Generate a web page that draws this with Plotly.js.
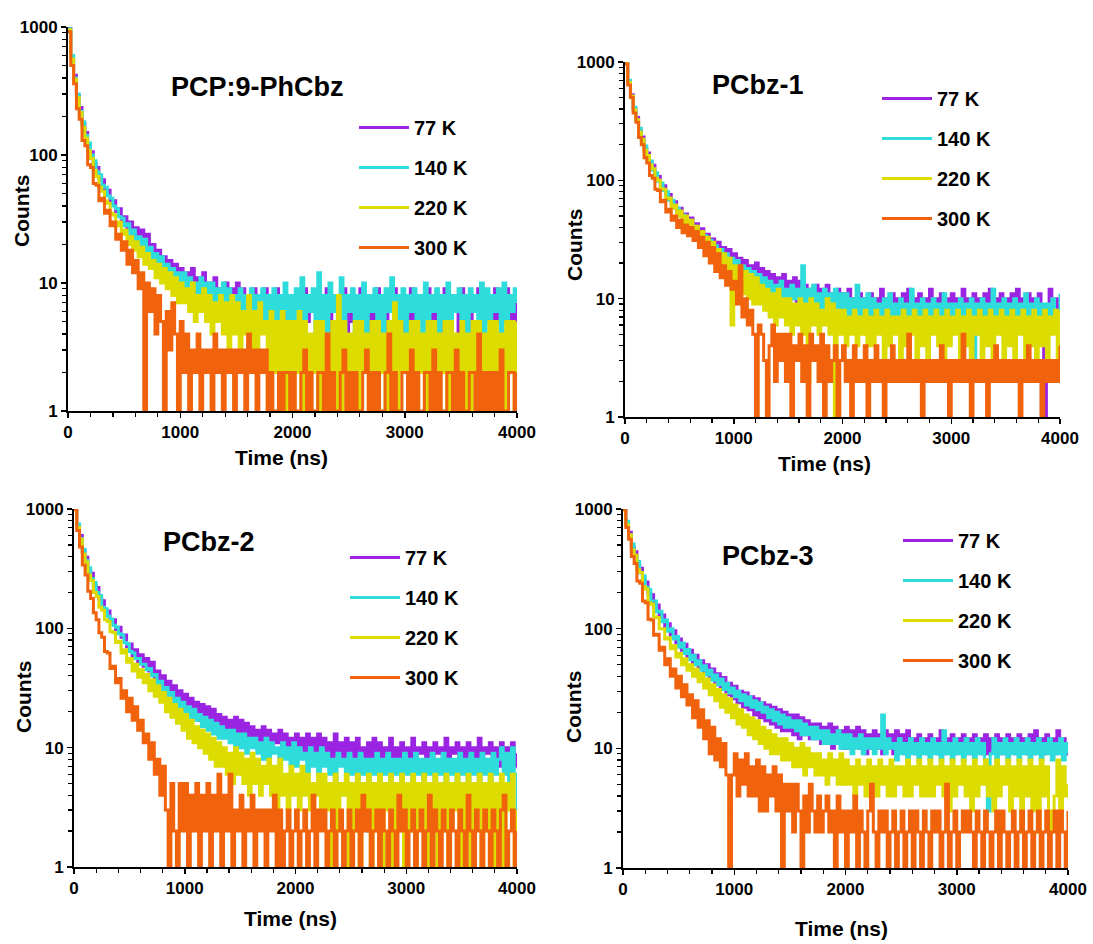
<!DOCTYPE html>
<html>
<head>
<meta charset="utf-8">
<script src="https://cdn.plot.ly/plotly-3.0.1.min.js"></script>
<style>html,body{margin:0;padding:0;background:#fff}#chart{width:1093px;height:944px}</style>
</head>
<body>
<div id="chart"></div>
<script>
// Time axis (ns)
const timeNs = [0,25,50,75,100,125,150,175,200,225,250,275,300,325,350,375,400,425,450,475,500,525,550,575,600,625,650,675,700,725,750,775,800,825,850,875,900,925,950,975,1000,1025,1050,1075,1100,1125,1150,1175,1200,1225,1250,1275,1300,1325,1350,1375,1400,1425,1450,1475,1500,1525,1550,1575,1600,1625,1650,1675,1700,1725,1750,1775,1800,1825,1850,1875,1900,1925,1950,1975,2000,2025,2050,2075,2100,2125,2150,2175,2200,2225,2250,2275,2300,2325,2350,2375,2400,2425,2450,2475,2500,2525,2550,2575,2600,2625,2650,2675,2700,2725,2750,2775,2800,2825,2850,2875,2900,2925,2950,2975,3000,3025,3050,3075,3100,3125,3150,3175,3200,3225,3250,3275,3300,3325,3350,3375,3400,3425,3450,3475,3500,3525,3550,3575,3600,3625,3650,3675,3700,3725,3750,3775,3800,3825,3850,3875,3900,3925,3950,3975,4000];

const temperatures = ["77 K", "140 K", "220 K", "300 K"];
const panelTitles = ["PCP:9-PhCbz", "PCbz-1", "PCbz-2", "PCbz-3"];
const xTickVals = [0, 1000, 2000, 3000, 4000];
const yTickVals = [1, 10, 100, 1000];

// ---- Panel 1: PCP:9-PhCbz ----
const p1_77K = [990,560,420,290,235,175,150,118,106,86, 80,66,64,52,53,42,44,36,38,30, 33,26,30,23,27,21,26,19,24,17, 20,14,18,13,16,11,15,10,14,9, 13,8,12,9,13,7,11,8,12,7, 10,6,11,7,9,6,10,5,9,7, 10,5,9,6,8,5,9,6,8,5, 9,5,8,6,9,4,8,5,7,6, 8,5,7,4,9,5,8,6,7,4, 8,5,9,4,7,6,8,5,9,4, 7,5,8,4,9,6,7,4,8,5, 9,5,7,4,8,6,9,5,7,4, 8,5,9,4,7,6,8,5,9,4, 7,5,8,4,9,5,7,6,8,4, 9,5,7,4,8,6,9,4,7,5, 8,4,9,5,7,6,9,4,8,5,7];
const p1_140K = [970,600,400,300,220,182,142,124,100,90, 74,70,58,56,48,46,40,38,33,32, 28,29,24,26,21,23,19,22,17,19, 15,17,13,16,12,14,11,13,10,12, 9,12,8,11,9,10,7,11,8,10, 7,10,6,9,7,10,6,9,5,8, 6,9,5,8,6,9,5,8,6,9, 5,8,4,9,5,8,6,10,4,8, 5,9,4,11,5,8,6,9,4,12, 5,8,4,10,6,8,5,11,4,8, 6,9,4,8,5,10,4,8,6,9, 5,8,4,9,6,11,4,8,5,9, 4,8,6,9,5,8,4,10,5,8, 6,9,4,8,5,10,4,8,6,9, 5,8,4,9,6,8,5,10,4,9, 5,8,6,9,4,10,5,8,6,9,7];
const p1_220K = [950,560,390,280,215,165,135,108,94,76, 68,56,52,44,42,35,34,28,30,24, 26,20,23,18,21,16,19,14,17,13, 15,11,14,10,13,9,12,8,11,7, 10,7,9,6,10,5,8,6,9,5, 8,4,7,5,8,4,7,3,8,4, 7,3,6,4,8,3,6,2,7,4, 5,1,6,2,5,1,6,1,5,1, 5,2,6,1,5,1,4,2,5,1, 5,1,4,2,5,1,8,1,5,2, 4,1,5,1,5,2,4,1,5,1, 5,2,4,1,5,1,7,1,5,2, 4,1,5,1,5,2,4,1,5,1, 5,1,4,2,5,1,5,1,4,2, 5,1,4,1,5,2,5,1,4,1, 5,2,5,1,4,1,5,2,5,1,5];
const p1_300K = [920,500,360,230,190,130,118,84,80,60, 58,44,46,35,37,28,30,22,24,18, 21,14,18,12,15,9,12,1,10,6, 9,4,8,5,1,6,3,7,4,1, 5,2,4,1,3,2,4,1,3,2, 3,1,4,2,3,1,3,2,3,1, 3,2,3,1,4,2,3,1,3,2, 3,1,2,1,1,2,1,2,2,1, 2,1,1,2,3,1,2,1,1,2, 2,1,4,1,2,1,1,2,3,1, 2,1,2,1,1,2,3,1,2,1, 2,1,1,2,4,1,2,1,1,2, 2,1,3,1,2,1,1,2,2,1, 3,1,2,1,1,2,2,1,3,1, 2,1,1,2,2,1,4,1,2,1, 2,1,2,1,3,1,1,2,2,1,2];

// ---- Panel 2: PCbz-1 ----
const p2_77K = [1000,680,530,400,340,262,232,184,170,140, 134,110,108,90,90,75,76,63,66,54, 58,47,52,42,48,37,43,33,39,30, 35,27,32,24,30,22,27,20,26,19, 24,17,22,16,21,15,19,14,20,13, 18,12,17,11,16,12,15,10,16,11, 14,10,15,9,14,10,13,9,12,10, 13,8,12,9,13,8,11,9,12,8, 11,8,12,7,10,9,11,7,10,8, 11,7,10,8,12,7,10,8,11,7, 10,8,11,7,12,8,10,7,11,8, 10,7,12,8,10,7,11,8,10,7, 11,8,10,7,12,8,10,7,11,8, 10,7,11,8,12,7,10,8,11,7, 10,8,11,7,12,8,10,7,11,8, 10,7,11,8,1,7,12,8,10,7,9];
const p2_140K = [990,700,500,415,320,275,218,195,160,146, 122,116,98,95,82,80,68,68,58,58, 50,51,45,46,40,41,36,37,32,34, 29,31,26,28,23,26,21,24,19,22, 17,21,16,19,15,18,14,17,13,16, 12,15,11,14,10,13,9,14,10,12, 9,13,10,12,8,19,9,12,8,13, 9,11,8,12,7,11,9,12,7,11, 8,11,7,10,8,13,7,10,6,11, 7,10,8,9,6,10,7,11,6,9, 7,10,6,9,7,12,6,9,7,10, 6,9,7,10,6,9,7,11,6,9, 7,9,6,10,7,9,6,10,2,9, 7,10,6,9,7,12,6,9,7,10, 6,9,7,10,6,9,7,11,6,9, 7,10,6,9,7,9,6,10,7,8,11];
const p2_220K = [980,670,515,395,325,255,222,180,162,135, 125,104,100,85,84,70,71,58,62,50, 55,44,50,40,46,36,41,32,37,28, 33,25,30,22,26,19,24,17,22,6, 19,13,18,11,17,10,16,9,15,9, 13,8,12,7,11,6,12,7,10,6, 10,5,9,6,10,5,9,2,10,6, 9,5,8,6,10,5,9,1,8,5, 8,4,7,5,8,4,7,5,8,4, 7,4,8,5,7,3,8,4,7,5, 7,3,8,4,7,5,8,3,7,4, 8,3,7,5,8,4,7,3,8,4, 7,5,8,3,7,4,8,3,7,5, 8,3,7,4,8,3,7,5,8,3, 7,4,8,3,7,5,8,3,7,4, 8,3,7,4,8,3,7,5,8,3,8];
const p2_300K = [960,640,500,370,310,230,200,155,140,110, 104,84,82,66,68,54,57,46,50,40, 46,36,42,34,40,31,37,27,33,23, 30,20,27,17,24,15,19,13,17,12, 14,9,19,7,10,6,8,5,1,6, 5,3,1,4,6,2,5,3,5,2, 5,1,4,3,5,2,4,1,5,3, 4,2,5,1,4,2,3,4,1,3, 4,2,3,1,4,2,3,2,4,1, 3,2,4,2,3,1,3,2,4,2, 3,2,3,2,5,2,3,2,3,1, 3,2,3,2,3,2,4,2,3,1, 3,2,3,2,5,2,3,1,3,2, 3,2,3,1,3,2,4,2,3,2, 3,2,3,2,3,1,3,2,4,2, 3,2,3,1,3,2,3,2,3,2,4];

// ---- Panel 3: PCbz-2 ----
const p3_77K = [1000,730,600,440,395,305,290,228,220,176, 170,140,140,116,118,98,102,84,88,70, 74,58,66,52,60,48,56,44,52,38, 44,33,40,29,36,26,33,24,30,21, 28,19,26,18,24,17,23,16,22,15, 21,14,19,13,18,14,17,12,18,13, 17,12,16,11,15,12,14,11,15,10, 14,10,13,11,14,9,13,10,12,9, 13,10,12,9,13,8,12,9,13,10, 12,9,11,8,13,9,11,8,12,9, 11,8,12,9,10,8,11,7,12,8, 11,8,10,9,12,8,10,7,11,9, 10,8,12,7,10,9,11,8,10,7, 11,9,10,8,12,7,10,9,11,8, 10,7,11,9,10,8,12,7,10,9, 11,8,10,7,11,9,10,8,11,7,9];
const p3_140K = [990,750,565,460,370,322,262,242,200,188, 150,146,126,120,106,102,90,88,76,74, 64,62,56,56,50,50,45,46,40,41, 34,36,30,32,27,29,24,26,22,24, 20,22,18,21,17,19,15,18,14,17, 13,16,12,15,12,14,11,14,10,13, 10,13,9,12,10,12,9,11,8,12, 8,11,9,10,7,11,8,10,7,11, 7,10,8,9,6,10,7,9,6,10, 7,9,6,8,5,9,7,8,6,9, 6,8,5,9,6,8,2,8,6,9, 5,8,6,9,5,8,6,8,5,9, 6,8,5,9,6,8,5,8,6,9, 5,8,6,9,5,8,6,8,5,9, 6,8,5,9,6,8,5,9,6,8, 5,9,6,8,10,6,9,5,10,6,3];
const p3_220K = [980,700,560,420,360,280,252,200,185,150, 142,118,114,94,92,76,78,62,66,52, 56,44,50,39,45,35,41,30,37,27, 33,24,29,20,26,18,23,16,21,14, 19,12,17,11,15,10,14,9,13,8, 12,7,11,7,10,6,9,5,10,6, 9,5,8,4,9,5,8,4,7,5, 8,4,7,3,8,4,6,3,7,4, 6,3,7,4,6,3,5,4,6,3, 6,3,5,1,6,2,5,4,6,1, 5,2,6,1,5,3,6,1,5,2, 6,1,5,3,6,1,5,2,6,1, 5,2,6,1,5,3,6,1,5,2, 6,1,5,2,6,1,5,3,6,1, 5,2,6,1,5,3,6,1,5,2, 6,1,5,2,6,1,5,3,6,1,3];
const p3_300K = [990,660,480,340,280,205,178,135,118,92, 84,64,62,46,48,35,38,26,30,20, 26,17,22,14,17,11,13,8,11,6, 8,4,7,3,1,5,2,1,5,2, 5,1,4,2,5,1,4,2,5,1, 4,2,6,1,4,2,6,1,3,2, 4,1,3,2,4,1,3,2,3,1, 3,2,4,1,3,1,2,3,1,2, 3,1,2,3,1,2,4,1,3,2, 3,1,2,3,1,2,3,1,2,3, 1,2,3,1,4,2,3,1,2,3, 1,3,2,1,3,2,1,4,2,3, 1,2,3,1,2,3,1,2,4,1, 3,2,1,3,2,1,3,2,1,3, 2,1,4,2,1,3,2,1,3,2, 1,3,2,1,3,4,1,2,3,1,2];

// ---- Panel 4: PCbz-3 ----
const p4_77K = [1000,760,640,480,440,340,320,250,245,195, 192,155,158,126,130,104,110,88,96,76, 82,66,74,58,66,52,60,47,54,42, 50,38,46,34,42,31,39,28,35,26, 33,24,30,22,29,21,27,19,26,18, 24,17,23,16,22,15,21,14,20,14, 19,13,19,12,18,13,17,12,16,12, 16,11,15,12,16,10,15,11,14,10, 15,10,14,11,15,10,14,9,13,10, 14,10,13,9,14,10,13,9,14,10, 13,9,14,10,12,9,13,10,12,9, 13,10,12,9,14,9,12,10,13,9, 12,10,13,9,12,9,13,10,12,9, 13,9,12,10,13,9,12,9,13,10, 12,9,13,10,12,9,13,9,14,10, 12,9,13,10,12,9,14,10,12,9,10];
const p4_140K = [990,790,600,510,405,365,292,275,222,212, 170,170,138,140,114,118,95,100,82,86, 70,76,62,67,55,60,50,54,45,49, 41,45,37,41,34,38,31,35,29,32, 27,30,25,28,23,27,22,25,21,24, 20,22,18,21,17,20,16,19,15,18, 15,17,14,17,13,16,13,15,12,15, 12,14,11,14,11,13,11,14,10,13, 10,13,9,12,10,13,9,12,10,12, 9,12,10,19,9,12,10,11,8,12, 9,11,8,12,9,11,8,12,9,11, 8,12,9,11,8,14,9,11,8,12, 9,11,8,12,9,11,8,12,9,11, 8,3,9,12,8,11,9,12,8,11, 9,12,8,11,9,12,8,11,9,12, 8,11,9,12,8,11,9,12,8,11,9];
const p4_220K = [980,740,610,455,410,310,295,225,215,165, 160,126,124,100,100,82,84,68,72,58, 62,50,56,45,50,40,46,36,42,32, 38,28,34,25,31,22,28,20,26,18, 23,16,21,15,19,13,18,12,17,11, 15,10,14,9,13,9,12,8,12,8, 11,7,10,7,11,6,10,7,9,6, 9,6,8,5,9,6,8,5,9,5, 8,5,7,4,8,5,7,4,8,5, 7,4,8,5,7,4,8,4,7,5, 7,4,8,4,7,5,8,4,7,4, 8,4,7,5,8,4,7,3,8,4, 7,5,8,4,7,3,8,4,7,5, 8,4,7,3,8,4,7,5,8,3, 7,4,8,2,7,4,8,3,7,2, 8,4,7,3,2,4,8,3,7,4,5];
const p4_300K = [990,700,560,400,350,250,240,170,165,120, 118,88,90,66,70,50,56,40,46,32, 40,27,34,23,28,18,25,15,21,12, 17,9,15,8,12,7,11,6,1,6, 9,4,8,5,9,4,7,4,8,3, 7,3,6,4,7,3,6,1,5,3, 5,2,5,3,1,4,2,5,3,2, 4,2,3,4,2,3,1,4,2,3, 1,3,2,4,1,3,2,1,3,5, 2,1,3,2,3,1,2,3,1,2, 3,1,2,3,1,3,2,1,3,2, 1,3,2,3,1,2,5,1,2,3, 1,2,3,2,3,2,1,3,2,1, 3,2,1,2,3,1,3,2,1,2, 3,1,2,3,1,2,3,1,2,3, 1,2,3,1,2,3,1,3,2,1,3];

const panelSeries = [
  [p1_77K, p1_140K, p1_220K, p1_300K],
  [p2_77K, p2_140K, p2_220K, p2_300K],
  [p3_77K, p3_140K, p3_220K, p3_300K],
  [p4_77K, p4_140K, p4_220K, p4_300K]
];

// ---- Styling ----
const colors = ["#9b24e3", "#2fdcdc", "#dcdc00", "#f0620c"];
const FONT = "Liberation Sans, Arial, Helvetica, sans-serif";
const W = 1093, H = 944;
// pixel boxes of the four plot areas [left, right, top, bottom]
const boxes = [[68, 517, 27, 411], [625, 1060, 62, 417], [74, 517, 509, 867], [623, 1068, 509, 868]];
const titlePos = [[257, 87], [758, 85], [209, 542], [768, 556]];
const countsPos = [[21, 211], [574, 245], [23, 697], [573, 707]];
const timePos = [[281, 458], [824, 463], [290, 918], [841, 928]];
const legendPos = [[354, 108], [877, 79], [345, 538], [898, 521]];

const traces = [];
panelSeries.forEach((series, p) => {
  const suf = p === 0 ? "" : String(p + 1);
  series.forEach((vals, k) => {
    traces.push({
      type: "scatter", mode: "lines",
      x: timeNs, y: vals,
      xaxis: "x" + suf, yaxis: "y" + suf,
      name: temperatures[k],
      legend: "legend" + suf,
      legendgroup: "g" + p + "_" + k,
      line: {color: colors[k], width: 3, shape: "hv"},
      hoverinfo: "x+y+name"
    });
  });
});

const layout = {
  width: W, height: H,
  margin: {l: 0, r: 0, t: 0, b: 0},
  paper_bgcolor: "#ffffff", plot_bgcolor: "#ffffff",
  font: {family: FONT, color: "#000", size: 17},
  showlegend: true,
  annotations: []
};

const minorY = [2,3,4,5,6,7,8,9,20,30,40,50,60,70,80,90,200,300,400,500,600,700,800,900];

boxes.forEach((b, p) => {
  const suf = p === 0 ? "" : String(p + 1);
  layout["xaxis" + suf] = {
    domain: [b[0] / W, b[1] / W],
    anchor: "y" + suf,
    range: [0, 4000],
    tickmode: "array", tickvals: xTickVals,
    ticks: "outside", ticklen: 5, tickwidth: 1.5, tickcolor: "#000",
    minor: {dtick: 200, ticks: "outside", ticklen: 4, tickwidth: 1.2, tickcolor: "#000", showgrid: false},
    showline: true, linecolor: "#000", linewidth: 2,
    showgrid: false, zeroline: false,
    tickfont: {family: FONT, size: 17, weight: "bold", color: "#000"}
  };
  layout["yaxis" + suf] = {
    domain: [1 - b[3] / H, 1 - b[2] / H],
    anchor: "x" + suf,
    type: "log", range: [0, 3],
    tickmode: "array", tickvals: yTickVals, ticktext: yTickVals.map(String),
    ticks: "outside", ticklen: 5, tickwidth: 1.5, tickcolor: "#000",
    minor: {tickmode: "array", tickvals: minorY, ticks: "outside", ticklen: 4, tickwidth: 1.2, tickcolor: "#000", showgrid: false},
    showline: true, linecolor: "#000", linewidth: 2,
    showgrid: false, zeroline: false,
    tickfont: {family: FONT, size: 17, weight: "bold", color: "#000"}
  };
  layout["legend" + suf] = {
    x: legendPos[p][0] / W, y: 1 - legendPos[p][1] / H,
    xanchor: "left", yanchor: "top",
    bgcolor: "rgba(0,0,0,0)", borderwidth: 0,
    font: {family: FONT, size: 20, weight: "bold", color: "#000"},
    traceorder: "grouped", tracegroupgap: 11,
    itemwidth: 50
  };
  layout.annotations.push({
    xref: "paper", yref: "paper", x: titlePos[p][0] / W, y: 1 - titlePos[p][1] / H,
    xanchor: "center", yanchor: "middle", showarrow: false,
    text: panelTitles[p], font: {family: FONT, size: 27, weight: "bold", color: "#000"}
  });
  layout.annotations.push({
    xref: "paper", yref: "paper", x: countsPos[p][0] / W, y: 1 - countsPos[p][1] / H,
    xanchor: "center", yanchor: "middle", showarrow: false, textangle: -90,
    text: "Counts", font: {family: FONT, size: 21, weight: "bold", color: "#000"}
  });
  layout.annotations.push({
    xref: "paper", yref: "paper", x: timePos[p][0] / W, y: 1 - timePos[p][1] / H,
    xanchor: "center", yanchor: "middle", showarrow: false,
    text: "Time (ns)", font: {family: FONT, size: 21, weight: "bold", color: "#000"}
  });
});

Plotly.newPlot("chart", traces, layout, {displayModeBar: false, staticPlot: true});
</script>
</body>
</html>
